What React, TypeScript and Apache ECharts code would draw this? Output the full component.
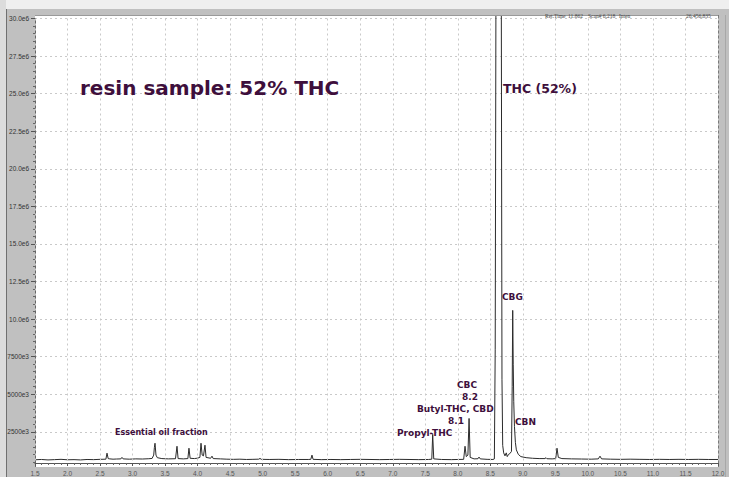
import React, { useEffect, useRef } from "react";
import * as echarts from "echarts";

// Retention time (min)
const times = [
  1.5, 1.6, 1.7, 1.8, 1.9, 2.0, 2.1, 2.2, 2.3, 2.4, 2.5, 2.59, 2.607, 2.625, 2.65, 2.7, 2.75, 2.82, 2.837, 2.855,
  2.95, 3.05, 3.15, 3.25, 3.3, 3.325, 3.335, 3.345, 3.36, 3.38, 3.45, 3.55, 3.66, 3.683, 3.7, 3.78, 3.85, 3.867, 3.885,
  3.95, 4.0, 4.035, 4.052, 4.07, 4.09, 4.113, 4.13, 4.2, 4.221, 4.24, 4.35, 4.45, 4.55, 4.65, 4.75, 4.85, 4.94, 4.959,
  4.98, 5.1, 5.25, 5.4, 5.55, 5.7, 5.74, 5.758, 5.775, 5.9, 6.05, 6.2, 6.35, 6.5, 6.65, 6.8, 6.95, 7.1, 7.25, 7.4,
  7.55, 7.6, 7.614, 7.63, 7.75, 7.9, 8.0, 8.09, 8.111, 8.13, 8.155, 8.173, 8.19, 8.25, 8.31, 8.326, 8.345, 8.45, 8.54,
  8.562, 8.575, 8.59, 8.625, 8.665, 8.679, 8.69, 8.705, 8.725, 8.745, 8.76, 8.78, 8.8, 8.825, 8.836, 8.844, 8.852,
  8.86, 8.871, 8.885, 8.9, 8.93, 8.97, 9.05, 9.15, 9.25, 9.34, 9.356, 9.37, 9.45, 9.505, 9.525, 9.545, 9.6, 9.75,
  9.9, 10.05, 10.16, 10.186, 10.21, 10.35, 10.5, 10.65, 10.8, 10.95, 11.1, 11.25, 11.4, 11.55, 11.7, 11.85, 12.0,
];

// Intensity (millions of counts)
const intensity = [
  0.64, 0.66, 0.63, 0.65, 0.67, 0.64, 0.65, 0.63, 0.66, 0.65, 0.67, 0.68, 1.08, 0.72, 0.7, 0.68, 0.69, 0.7, 0.8, 0.7,
  0.68, 0.7, 0.69, 0.71, 0.73, 0.95, 1.45, 1.74, 0.95, 0.78, 0.72, 0.7, 0.71, 1.54, 0.72, 0.7, 0.72, 1.41, 0.74,
  0.72, 0.75, 0.8, 1.74, 0.95, 0.9, 1.61, 0.8, 0.74, 0.88, 0.72, 0.7, 0.68, 0.67, 0.68, 0.66, 0.67, 0.68, 0.73,
  0.67, 0.66, 0.67, 0.65, 0.66, 0.66, 0.67, 0.95, 0.67, 0.65, 0.66, 0.65, 0.66, 0.67, 0.66, 0.65, 0.66, 0.67, 0.66, 0.65,
  0.66, 0.68, 2.33, 0.7, 0.66, 0.65, 0.66, 0.67, 1.54, 0.85, 0.95, 3.39, 0.8, 0.7, 0.71, 0.82, 0.7, 0.67, 0.66,
  0.7, 8.0, 40.0, 48.0, 40.0, 6.0, 1.6, 1.1, 0.9, 1.1, 0.85, 1.0, 1.05, 1.2, 5.5, 10.58, 7.0,
  4.5, 2.86, 1.8, 1.3, 1.0, 0.85, 0.78, 0.74, 0.72, 0.72, 0.78, 0.71, 0.7, 0.72, 1.41, 0.8, 0.72, 0.7,
  0.69, 0.68, 0.7, 0.88, 0.7, 0.68, 0.67, 0.68, 0.67, 0.66, 0.67, 0.66, 0.67, 0.66, 0.67, 0.66, 0.66,
];

// Y tick labels, one per 2.5e6 step from 0
const yTickLabels = [
  "", "2500e3", "5000e3", "7500e3", "10.0e6", "12.5e6", "15.0e6", "17.5e6", "20.0e6", "22.5e6", "25.0e6", "27.5e6", "30.0e6",
];

const PURPLE = "#3e0f3c";

export default function App() {
  const ref = useRef<HTMLDivElement>(null);
  useEffect(() => {
    if (!ref.current) return;
    const chart = echarts.init(ref.current, null, { renderer: "svg" });
    const txt = (text: string, x: number, y: number, size: number, z = 6) => ({
      type: "text",
      x,
      y,
      z,
      style: {
        text,
        fill: PURPLE,
        font: `bold ${size}px "DejaVu Sans"`,
        textVerticalAlign: "middle",
        verticalAlign: "middle",
      },
    });
    const hdr = (text: string, x: number) => ({
      type: "text",
      x,
      y: 16,
      z: 6,
      style: {
        text,
        fill: "#444",
        font: `5.5px "Liberation Serif"`,
        verticalAlign: "middle",
        textVerticalAlign: "middle",
      },
    });
    chart.setOption({
      animation: false,
      backgroundColor: "#c0c0c0",
      grid: { left: 35, right: 11, top: 18.5, bottom: 3.6, containLabel: false },
      xAxis: {
        type: "value",
        min: 1.5,
        max: 12,
        interval: 0.5,
        offset: -6.4,
        z: 5,
        axisLine: { show: true, lineStyle: { color: "#555", width: 1 } },
        axisTick: { show: true, length: 3, lineStyle: { color: "#555" } },
        minorTick: { show: true, splitNumber: 5, length: 2, lineStyle: { color: "#666" } },
        axisLabel: {
          fontSize: 6.5,
          color: "#555",
          margin: 7,
          fontFamily: "Liberation Sans",
          formatter: (v: number) => v.toFixed(1),
        },
        splitLine: { show: true, lineStyle: { color: "#c9c9c9", type: [2, 3], width: 1 } },
      },
      yAxis: {
        type: "value",
        min: 0,
        max: 30,
        interval: 2.5,
        axisLine: { show: true, lineStyle: { color: "#666", width: 1 } },
        axisTick: { show: true, length: 4, lineStyle: { color: "#555" } },
        minorTick: { show: true, splitNumber: 5, length: 2, lineStyle: { color: "#666" } },
        axisLabel: {
          fontSize: 6.5,
          color: "#333",
          margin: 6,
          fontFamily: "Liberation Sans",
          formatter: (v: number) => yTickLabels[Math.round(v / 2.5)] ?? "",
        },
        splitLine: { show: true, lineStyle: { color: "#c9c9c9", type: [2, 3], width: 1 } },
      },
      series: [
        {
          type: "line",
          data: times.map((t, i) => [t, intensity[i]]),
          symbol: "none",
          showSymbol: false,
          clip: false,
          z: 2,
          lineStyle: { color: "#2b2b2b", width: 1 },
        },
      ],
      graphic: [
        { type: "rect", z: -1, shape: { x: 35, y: 15, width: 683, height: 452 }, style: { fill: "#ffffff" } },
        { type: "rect", z: 1, shape: { x: 0, y: 467, width: 729, height: 10 }, style: { fill: "#c0c0c0" } },
        { type: "rect", z: 3, shape: { x: 0, y: 0, width: 729, height: 9 }, style: { fill: "#efefef" } },
        { type: "rect", z: 3, shape: { x: 0, y: 9, width: 729, height: 6 }, style: { fill: "#c0c0c0" } },
        { type: "rect", z: 3, shape: { x: 0, y: 0, width: 6, height: 477 }, style: { fill: "#dcdcdc" } },
        { type: "line", z: 4, shape: { x1: 6.5, y1: 9, x2: 6.5, y2: 477 }, style: { stroke: "#707070", lineWidth: 1 } },
        { type: "line", z: 4, shape: { x1: 35, y1: 15.5, x2: 718, y2: 15.5 }, style: { stroke: "#9a9a9a", lineWidth: 1 } },
        { type: "line", z: 4, shape: { x1: 718.5, y1: 15, x2: 718.5, y2: 467 }, style: { stroke: "#7a7a7a", lineWidth: 1 } },
        { type: "line", z: 4, shape: { x1: 725.5, y1: 15, x2: 725.5, y2: 477 }, style: { stroke: "#a8a8a8", lineWidth: 1 } },
        hdr("Ret.Time", 545),
        hdr("11.862", 568),
        hdr("Scan# 6,218", 588),
        hdr("Inten", 619),
        hdr("26,456,835", 686),
        txt("resin sample: 52% THC", 80, 88, 20),
        txt("THC (52%)", 503, 88, 12.5),
        txt("CBG", 502, 297, 9),
        txt("CBC", 457, 385, 9),
        txt("8.2", 462, 397, 9),
        txt("Butyl-THC, CBD", 417, 409, 9),
        txt("8.1", 448, 421, 9),
        txt("Propyl-THC", 397, 433, 9),
        txt("CBN", 515, 422, 9),
        txt("Essential oil fraction", 115, 432, 8),
      ],
    });
    return () => chart.dispose();
  }, []);
  return (
    <div
      ref={ref}
      style={{ position: "fixed", left: 0, top: 0, width: 729, height: 477, background: "#c0c0c0" }}
    />
  );
}
